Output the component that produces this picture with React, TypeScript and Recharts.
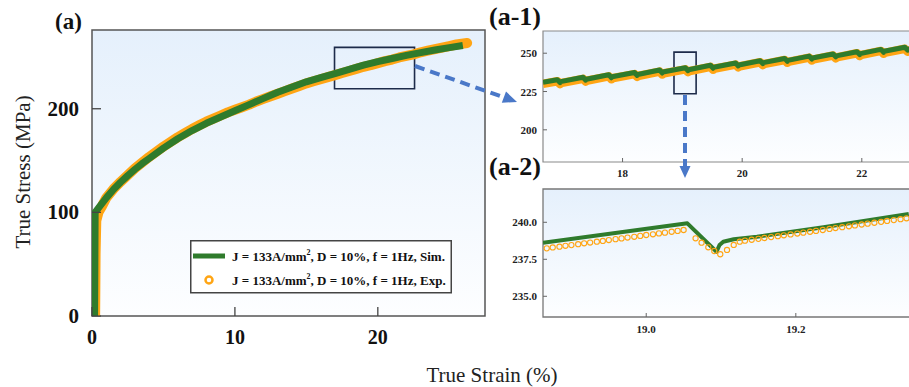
import React from 'react';
import { ComposedChart, Line, XAxis, YAxis, CartesianGrid, ReferenceArea, Legend } from 'recharts';

const SERIF = '"Liberation Serif", "Times New Roman", serif';
const GREEN = '#2f7b2c';
const ORANGE = '#ffa514';
const ARROW = '#4a78c8';

// ---------- Panel (a): full curve ----------
const simStrain = [0.18, 0.22, 0.5, 1, 1.5, 2, 2.5, 3, 3.5, 4, 5, 6, 7, 8, 9, 10, 11, 12, 13, 14, 15, 16, 17, 18, 19, 20, 21, 22, 23, 24, 25, 25.95];
const simStress = [0, 100, 105, 114, 122, 129, 135.5, 141.5, 147, 152, 162, 171, 179, 186, 192, 198, 204, 210, 216, 221, 226, 230, 234, 238, 242, 245.5, 248.5, 251.5, 254.2, 256.7, 259, 261];

const expStrain = [0.22, 0.25, 0.3, 0.45, 0.7, 1.0, 1.5, 2, 2.5, 3, 3.5, 4, 4.5, 5, 5.5, 6, 6.5, 7, 7.5, 8, 8.5, 9, 9.5, 10, 10.5, 11, 11.5, 12, 12.5, 13, 13.5, 14, 14.5, 15, 15.5, 16, 16.5, 17, 17.5, 18, 18.5, 19, 19.5, 20, 20.5, 21, 21.5, 22, 22.5, 23, 23.5, 24, 24.5, 25, 25.5, 26, 26.25];
const expStress = [0, 60, 92, 100, 106, 114, 122.5, 129.5, 136, 142.5, 148, 153.5, 158.5, 163.5, 168, 172.5, 176.5, 180.5, 184, 187.5, 190.5, 193.5, 196.5, 199, 201.5, 204, 207, 209.5, 212, 214.5, 217, 219.5, 222, 224.5, 226.5, 228.5, 230.5, 232.5, 234.5, 236.5, 238.5, 240.5, 242, 244, 246, 247.5, 249.5, 251, 252.5, 254.5, 256, 257.5, 259, 260.5, 262, 263, 263.5];

const mainXTicks = [0, 10, 20];
const mainYTicks = [0, 100, 200];

// ---------- Panel (a-1): zoom 16.7 – 23 % ----------
const a1Strain = [16.67, 16.91, 16.955, 16.965, 17.34, 17.385, 17.395, 17.77, 17.815, 17.825, 18.2, 18.245, 18.255, 18.62, 18.665, 18.675, 19.05, 19.095, 19.105, 19.47, 19.515, 19.525, 19.89, 19.935, 19.945, 20.3, 20.345, 20.355, 20.71, 20.755, 20.765, 21.12, 21.165, 21.175, 21.52, 21.565, 21.575, 21.92, 21.965, 21.975, 22.32, 22.365, 22.375, 22.72, 22.765, 22.775, 23.14];
const a1Sim = [231.0, 232.7, 230.8, 231.45, 234.3, 232.4, 233.05, 235.9, 234.0, 234.65, 237.4, 235.5, 236.15, 239.0, 237.1, 237.75, 240.5, 238.6, 239.25, 242.1, 240.2, 240.85, 243.6, 241.7, 242.35, 245.1, 243.2, 243.85, 246.6, 244.7, 245.35, 248.1, 246.2, 246.85, 249.5, 247.6, 248.25, 251.0, 249.1, 249.75, 252.5, 250.6, 251.25, 253.9, 252.0, 252.65, 255.3];
const a1Exp = [230.0, 231.7, 229.8, 230.45, 233.3, 231.4, 232.05, 234.9, 233.0, 233.65, 236.4, 234.5, 235.15, 238.0, 236.1, 236.75, 239.5, 237.6, 238.25, 241.1, 239.2, 239.85, 242.6, 240.7, 241.35, 244.1, 242.2, 242.85, 245.6, 243.7, 244.35, 247.1, 245.2, 245.85, 248.5, 246.6, 247.25, 250.0, 248.1, 248.75, 251.5, 249.6, 250.25, 252.9, 251.0, 251.65, 254.3];
const a1XTicks = [18, 20, 22];
const a1YTicks = [200, 225, 250];

// ---------- Panel (a-2): zoom 18.86 – 19.35 % ----------
const a2SimStrain = [18.862, 19.055, 19.094, 19.098, 19.103, 19.117, 19.148, 19.237, 19.351];
const a2SimStress = [238.62, 239.93, 238.01, 238.47, 238.69, 238.85, 239.03, 239.66, 240.56];
const a2ExpStrain = [
  18.867, 18.875, 18.884, 18.892, 18.9, 18.909, 18.917, 18.925, 18.934, 18.942, 18.95, 18.959, 18.967, 18.975, 18.984, 18.992, 19.0, 19.009, 19.017, 19.025, 19.034, 19.042, 19.05,
  19.066, 19.074, 19.083, 19.091, 19.099, 19.108, 19.117, 19.125,
  19.132, 19.141, 19.15, 19.158, 19.167, 19.176, 19.184, 19.193, 19.202, 19.21, 19.219, 19.227, 19.236, 19.245, 19.253, 19.262, 19.271, 19.279, 19.288, 19.296, 19.305, 19.314, 19.322, 19.331, 19.34, 19.348,
];
const a2ExpStress = [
  238.24, 238.3, 238.35, 238.41, 238.46, 238.52, 238.58, 238.63, 238.69, 238.74, 238.8, 238.86, 238.91, 238.97, 239.02, 239.08, 239.14, 239.19, 239.25, 239.3, 239.36, 239.42, 239.48,
  238.92, 238.62, 238.31, 238.06, 237.84, 238.13, 238.47, 238.69,
  238.76, 238.82, 238.88, 238.94, 239.0, 239.06, 239.12, 239.18, 239.24, 239.3, 239.36, 239.42, 239.48, 239.55, 239.61, 239.67, 239.73, 239.79, 239.85, 239.91, 239.97, 240.03, 240.09, 240.15, 240.21, 240.27,
];
const a2XTicks = [19.0, 19.2];
const a2YTicks = [235.0, 237.5, 240.0];

const legendPrefix = 'J = 133A/mm';
const legendSuffixes = [', D = 10%, f = 1Hz, Sim.', ', D = 10%, f = 1Hz, Exp.'];

const rows = (xs: number[], ys: number[]) => xs.map((x, i) => ({ x, y: ys[i] }));

const simRows = rows(simStrain, simStress);
const expRows = rows(expStrain, expStress);
const a1SimRows = rows(a1Strain, a1Sim);
const a1ExpRows = rows(a1Strain, a1Exp);
const a2SimRows = rows(a2SimStrain, a2SimStress);
const a2ExpRows = rows(a2ExpStrain, a2ExpStress);

const MainXTick = (props: any) => {
  const { x, y, payload } = props;
  return (
    <g>
      <line x1={x} x2={x} y1={y} y2={y - 9} stroke="#444" strokeWidth={1.3} />
      <text x={x} y={y + 28} textAnchor="middle" fontFamily={SERIF} fontWeight="bold" fontSize={20} fill="#111">
        {payload.value}
      </text>
    </g>
  );
};

const MainYTick = (props: any) => {
  const { x, y, payload } = props;
  return (
    <g>
      <line x1={x} x2={x + 9} y1={y} y2={y} stroke="#444" strokeWidth={1.3} />
      <text x={x - 13} y={y + 7} textAnchor="end" fontFamily={SERIF} fontWeight="bold" fontSize={21} fill="#111">
        {payload.value}
      </text>
    </g>
  );
};

const makeInsetXTick = (fmt: (v: number) => string, dy: number) => (props: any) => {
  const { x, y, payload } = props;
  return (
    <g>
      <line x1={x} x2={x} y1={y} y2={y - 4} stroke="#666" strokeWidth={1} />
      <text x={x} y={y + dy} textAnchor="middle" fontFamily={SERIF} fontWeight="bold" fontSize={11} fill="#222">
        {fmt(payload.value)}
      </text>
    </g>
  );
};

const makeInsetYTick = (fmt: (v: number) => string) => (props: any) => {
  const { x, y, payload } = props;
  return (
    <g>
      <line x1={x} x2={x + 4} y1={y} y2={y} stroke="#666" strokeWidth={1} />
      <text x={x - 6} y={y + 4} textAnchor="end" fontFamily={SERIF} fontWeight="bold" fontSize={11} fill="#222">
        {fmt(payload.value)}
      </text>
    </g>
  );
};

const fmtInt = (v: number) => String(v);
const fmt1 = (v: number) => v.toFixed(1);

const A1XTick = makeInsetXTick(fmtInt, 15);
const A1YTick = makeInsetYTick(fmtInt);
const A2XTick = makeInsetXTick(fmt1, 16);
const A2YTick = makeInsetYTick(fmt1);

const LegendBox = () => (
  <svg width={262} height={54} style={{ display: 'block' }}>
    <rect x={0.75} y={0.75} width={260.5} height={52} fill="#fff" stroke="#444" strokeWidth={1.5} />
    <line x1={3} x2={35} y1={16} y2={16} stroke={GREEN} strokeWidth={5} />
    <circle cx={19} cy={40} r={3.5} fill="none" stroke={ORANGE} strokeWidth={2.5} />
    {legendSuffixes.map((s, i) => (
      <text key={i} x={42} y={20.5 + i * 24} fontFamily={SERIF} fontWeight="bold" fontSize={13} fill="#111">
        {legendPrefix}
        <tspan dy={-6} fontSize={8}>2</tspan>
        <tspan dy={6}>{s}</tspan>
      </text>
    ))}
  </svg>
);

const Grad = ({ id }: { id: string }) => (
  <defs>
    <linearGradient id={id} x1="0" y1="0" x2="0" y2="1">
      <stop offset="0%" stopColor="#e5f0fc" />
      <stop offset="100%" stopColor="#fdfeff" />
    </linearGradient>
  </defs>
);

export default function App() {
  return (
    <div style={{ position: 'absolute', left: 0, top: 0, width: 909, height: 387, overflow: 'hidden', background: '#fff' }}>
      {/* Main panel (a) */}
      <div style={{ position: 'absolute', left: 0, top: 0 }}>
        <ComposedChart width={500} height={360} margin={{ top: 30, right: 15, bottom: 4, left: 2 }}>
          <Grad id="gA" />
          <CartesianGrid horizontal={false} vertical={false} fill="url(#gA)" stroke="none" />
          <XAxis type="number" dataKey="x" domain={[0, 27.5]} ticks={mainXTicks} allowDataOverflow height={40}
            axisLine={false} tickLine={false} tickSize={0} tickMargin={0} tick={<MainXTick />} />
          <YAxis type="number" domain={[0, 276]} ticks={mainYTicks} allowDataOverflow width={90}
            axisLine={false} tickLine={false} tickSize={0} tickMargin={0} tick={<MainYTick />} />
          <Line data={expRows} dataKey="y" stroke={ORANGE} strokeWidth={10} strokeLinecap="round" strokeLinejoin="round"
            dot={false} isAnimationActive={false} activeDot={false} />
          <Line data={simRows} dataKey="y" stroke={GREEN} strokeWidth={7} dot={false} isAnimationActive={false}
            strokeLinejoin="round" activeDot={false} />
          <ReferenceArea x1={0} x2={27.5} y1={0} y2={276} fill="none" stroke="#555" strokeWidth={1.5} />
          <ReferenceArea x1={16.97} x2={22.57} y1={219.3} y2={259.2} fill="none" stroke="#1d2b4a" strokeWidth={1.6} />
          <Legend layout="vertical" align="center" verticalAlign="middle" content={() => <LegendBox />}
            wrapperStyle={{ position: 'absolute', left: 190, top: 240, width: 262, height: 54 }} />
        </ComposedChart>
      </div>

      {/* Inset (a-1) */}
      <div style={{ position: 'absolute', left: 490, top: 0 }}>
        <ComposedChart width={460} height={190} margin={{ top: 31, right: 20, bottom: 3, left: 0 }}>
          <Grad id="gA1" />
          <CartesianGrid horizontal={false} vertical={false} fill="url(#gA1)" stroke="none" />
          <XAxis type="number" dataKey="x" domain={[16.67, 23.14]} ticks={a1XTicks} allowDataOverflow height={25}
            axisLine={false} tickLine={false} tickSize={0} tickMargin={0} tick={<A1XTick />} />
          <YAxis type="number" domain={[179, 264.5]} ticks={a1YTicks} allowDataOverflow width={53}
            axisLine={false} tickLine={false} tickSize={0} tickMargin={0} tick={<A1YTick />} />
          <Line data={a1ExpRows} dataKey="y" stroke={ORANGE} strokeWidth={8.5} dot={false} isAnimationActive={false}
            strokeLinejoin="round" activeDot={false} />
          <Line data={a1SimRows} dataKey="y" stroke={GREEN} strokeWidth={5} dot={false} isAnimationActive={false}
            strokeLinejoin="round" activeDot={false} />
          <ReferenceArea x1={16.67} x2={23.14} y1={179} y2={264.5} fill="none" stroke="#8a8a8a" strokeWidth={1.2} />
          <ReferenceArea x1={18.86} x2={19.23} y1={223.5} y2={250.7} fill="none" stroke="#1d2b4a" strokeWidth={1.6} />
        </ComposedChart>
      </div>

      {/* Inset (a-2) */}
      <div style={{ position: 'absolute', left: 490, top: 185 }}>
        <ComposedChart width={460} height={175} margin={{ top: 4, right: 20, bottom: 18, left: 0 }}>
          <Grad id="gA2" />
          <CartesianGrid horizontal={false} vertical={false} fill="url(#gA2)" stroke="none" />
          <XAxis type="number" dataKey="x" domain={[18.862, 19.3794]} ticks={a2XTicks} allowDataOverflow height={25}
            axisLine={false} tickLine={false} tickSize={0} tickMargin={0} tick={<A2XTick />} />
          <YAxis type="number" domain={[233.6, 242.25]} ticks={a2YTicks} allowDataOverflow width={53}
            axisLine={false} tickLine={false} tickSize={0} tickMargin={0} tick={<A2YTick />} />
          <Line data={a2ExpRows} dataKey="y" stroke="none" isAnimationActive={false} activeDot={false}
            dot={{ r: 2.6, stroke: ORANGE, strokeWidth: 1.1, fill: 'none' }} />
          <Line data={a2SimRows} dataKey="y" stroke={GREEN} strokeWidth={4} dot={false} isAnimationActive={false}
            strokeLinejoin="round" activeDot={false} />
          <ReferenceArea x1={18.862} x2={19.3794} y1={233.6} y2={242.25} fill="none" stroke="#777" strokeWidth={1.3} />
        </ComposedChart>
      </div>

      {/* Overlay: titles, panel labels, zoom arrows */}
      <svg width={909} height={387} style={{ position: 'absolute', left: 0, top: 0, pointerEvents: 'none' }}>
        <text x={55} y={29} fontFamily={SERIF} fontWeight="bold" fontSize={23} fill="#111">(a)</text>
        <text x={489} y={25} fontFamily={SERIF} fontWeight="bold" fontSize={26} fill="#111">(a-1)</text>
        <text x={489} y={175} fontFamily={SERIF} fontWeight="bold" fontSize={26} fill="#111">(a-2)</text>
        <text transform="translate(30,172) rotate(-90)" textAnchor="middle" fontFamily={SERIF} fontSize={21} fill="#222">
          True Stress (MPa)
        </text>
        <text x={492} y={382} textAnchor="middle" fontFamily={SERIF} fontSize={21} fill="#222">True Strain (%)</text>
        <line x1={415} y1={66} x2={503} y2={97} stroke={ARROW} strokeWidth={4} strokeDasharray="10 6" />
        <polygon points="517,102 501.8,102.7 506,91.5" fill={ARROW} />
        <line x1={685} y1={95} x2={685} y2={167} stroke={ARROW} strokeWidth={4} strokeDasharray="10 6" />
        <polygon points="679.5,166 690.5,166 685,178" fill={ARROW} />
      </svg>
    </div>
  );
}
